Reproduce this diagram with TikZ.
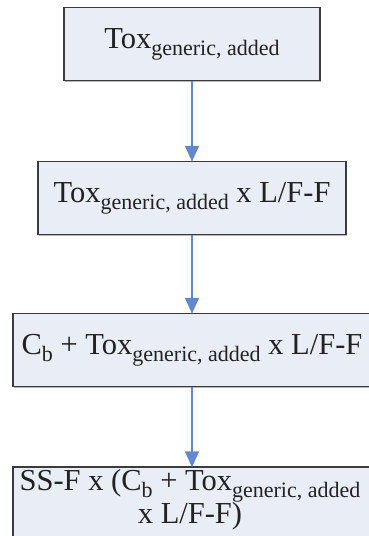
\documentclass[tikz,border=0pt]{standalone}
\usepackage{fontspec}
\setmainfont{Liberation Serif}
\newfontfamily\tms{Liberation Serif}
\usetikzlibrary{arrows.meta,shadows}
\newcommand\sbx[1]{\raisebox{-7pt}{\fontsize{22}{22}\selectfont #1}}
\definecolor{boxfill}{HTML}{E9EDF6}
\definecolor{boxline}{HTML}{3C3C3C}
\definecolor{arrowblue}{HTML}{6389CC}
\definecolor{txt}{HTML}{222222}
\begin{document}
\begin{tikzpicture}[x=1pt,y=-1pt,
  flowbox/.style={draw=boxline, line width=1.5pt, fill=boxfill, inner sep=0pt,
    minimum height=73pt, text=txt, font=\tms\fontsize{30.5}{34}\selectfont,
    drop shadow={shadow xshift=1.2pt, shadow yshift=-1.2pt, fill=gray!80, opacity=0.7}},
  flowarrow/.style={draw=arrowblue, line width=1.8pt, -{Triangle[width=14pt,length=16pt]}, shorten >=-1pt}]
\useasboundingbox (0,0) rectangle (369,536);
\clip (0,0) rectangle (369,536);
\node[flowbox, minimum width=256pt] (b1) at (192,44) {Tox\sbx{generic, added}};
\node[flowbox, minimum width=308pt] (b2) at (192,198) {Tox\sbx{generic, added} x L/F-F};
\node[flowbox, minimum width=358pt] (b3) at (192,350) {C\sbx{b} + Tox\sbx{generic, added} x L/F-F};
\node[flowbox, minimum width=358pt, minimum height=90pt] (b4) at (192,512) {};
\node[text=txt, font=\tms\fontsize{30.5}{33}\selectfont, align=center, inner sep=0pt] (t4) at (190,500)
  {SS-F x (C\sbx{b} + Tox\sbx{generic, added}\\x L/F-F)};
\draw[flowarrow] (b1.south) -- (b2.north);
\draw[flowarrow] (b2.south) -- (b3.north);
\draw[flowarrow] (b3.south) -- (b4.north);
\end{tikzpicture}
\end{document}
